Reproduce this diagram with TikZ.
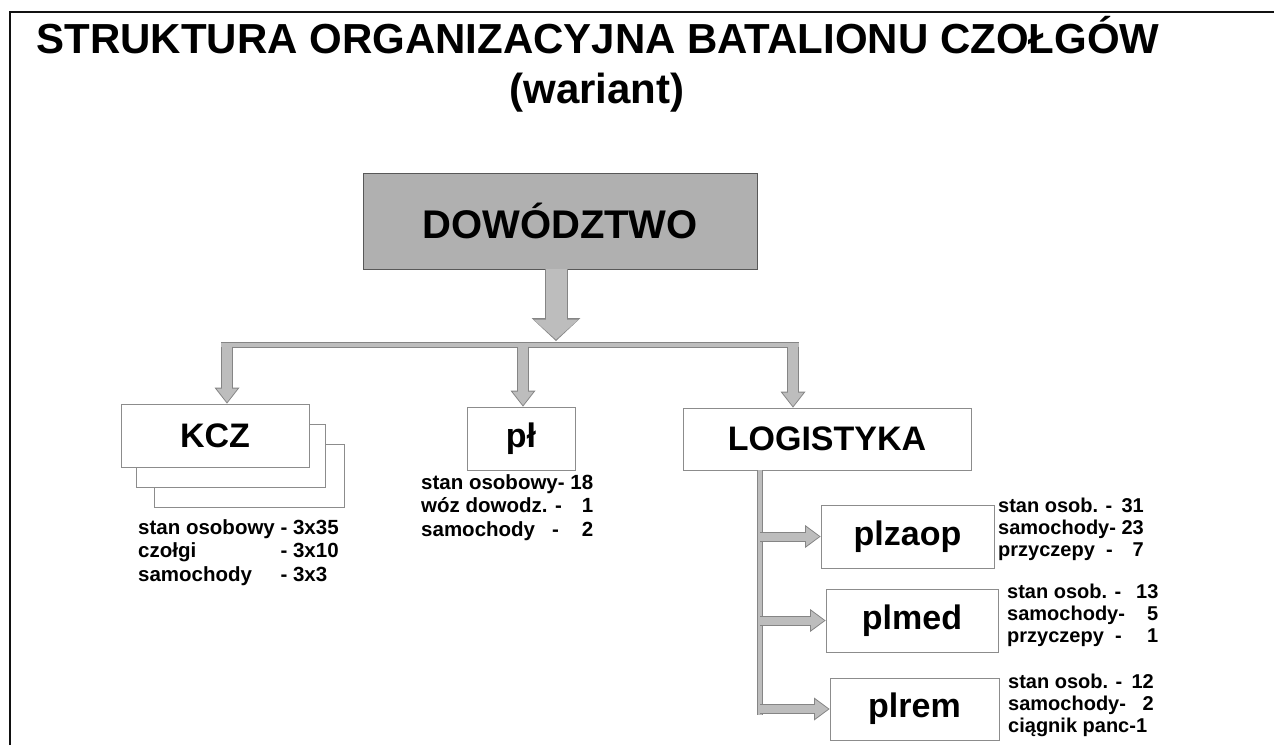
\documentclass[tikz,border=0pt]{standalone}
\usepackage{fontspec}
\setmainfont{Liberation Sans}
\usepackage{tikz}
\usetikzlibrary{arrows.meta,positioning,calc}
\definecolor{ink}{HTML}{111111}
\definecolor{edge}{HTML}{8C8C8C}
\definecolor{shade}{HTML}{B0B0B0}
\definecolor{arrfill}{HTML}{BDBDBD}
\definecolor{arredge}{HTML}{858585}

\begin{document}
\begin{tikzpicture}[x=1pt,y=-1pt,
 bx/.style={draw=edge,line width=.8pt,fill=white,inner sep=0pt,minimum height=63pt,font=\fontsize{34}{40}\selectfont\bfseries},
 inf/.style={anchor=west,inner sep=0pt,font=\fontsize{20.5}{23.5}\selectfont\bfseries},
 sinf/.style={anchor=west,inner sep=0pt,font=\fontsize{20}{22}\selectfont\bfseries},
 hbar/.style={draw=arrfill,line width=4pt,preaction={draw=arredge,line width=6pt}},
 vbar/.style={draw=arrfill,line width=3.5pt,preaction={draw=arredge,line width=5.5pt}},
 ar/.style={draw=arrfill,line width=10pt,shorten >=1.5pt,-{Triangle[width=21pt,length=13.5pt,line width=0pt]},
   preaction={draw=arredge,line width=12pt,shorten >=0pt,-{Triangle[width=25pt,length=16pt,line width=0pt]}}},
 har/.style={draw=arrfill,line width=8pt,shorten >=1.5pt,-{Triangle[width=19pt,length=13pt,line width=0pt]},
   preaction={draw=arredge,line width=10pt,shorten >=0pt,-{Triangle[width=23pt,length=15.5pt,line width=0pt]}}},
 bigar/.style={draw=arrfill,line width=21pt,shorten >=1.5pt,-{Triangle[width=45pt,length=20pt,line width=0pt]},
   preaction={draw=arredge,line width=23pt,shorten >=0pt,-{Triangle[width=49pt,length=23pt,line width=0pt]}}}
]
\useasboundingbox (0,0) rectangle (1274,745);
\draw[ink,line width=1.6pt] (10,745) -- (10,12) -- (1274,12);

% title
\node[anchor=base,font=\fontsize{42}{48}\selectfont\bfseries] (title) at (598,53) {STRUKTURA ORGANIZACYJNA BATALIONU CZOŁGÓW};
\node[anchor=base,font=\fontsize{42}{48}\selectfont\bfseries] (sub) at (597,103.5) {(wariant)};

% boxes
\node[bx,fill=shade,draw=ink!70,minimum width=394pt,minimum height=96pt,font=\fontsize{40}{44}\selectfont\bfseries] (dow) at (560,221) {DOWÓDZTWO};
\node[bx,minimum width=190pt] (kcz3) at (249,475.5) {};
\node[bx,minimum width=189pt] (kcz2) at (230.5,455.5) {};
\node[bx,minimum width=188pt] (kcz) at (215,435.5) {KCZ};
\node[bx,minimum width=108pt] (pl) at (521,438.5) {pł};
\node[bx,minimum width=288pt,minimum height=62pt] (log) at (827,439) {LOGISTYKA};
\node[bx,minimum width=173pt] (zaop) at (907.5,536.5) {plzaop};
\node[bx,minimum width=172pt] (med) at (912,620.5) {plmed};
\node[bx,minimum width=169pt,minimum height=62pt] (rem) at (914.5,709) {plrem};

% strength
\node[inf] (kczinf) at (138,553) {\begin{tabular}{@{}l@{\ }l@{}}stan osobowy & - 3x35\\czołgi & - 3x10\\samochody & - 3x3\end{tabular}};
\node[inf] (plinf) at (421,508) {\begin{tabular}{@{}l@{\ }r@{}}stan osobowy- & 18\\wóz dowodz. - & 1\\samochody\ \ \ - & 2\end{tabular}};
\node[sinf] (zaopinf) at (998,530) {\begin{tabular}{@{}l@{\ }r@{}}stan osob. - & 31\\samochody- & 23\\przyczepy\ \ - & 7\end{tabular}};
\node[sinf] (medinf) at (1007,616) {\begin{tabular}{@{}l@{\ \ }r@{}}stan osob. - & 13\\samochody- & 5\\przyczepy\ \ - & 1\end{tabular}};
\node[sinf] (reminf) at (1008,706) {\begin{tabular}{@{}l@{\ }r@{}}stan osob. - & 12\\samochody- & 2\\\multicolumn{2}{@{}l@{}}{ciągnik panc-1}\end{tabular}};

% connectors
\coordinate (bl) at (221,344.5);
\coordinate (br) at (799,344.5);
\coordinate (bm) at (556,341);
\coordinate (ka) at (227,346.5);
\coordinate (pa) at (523,346.5);
\coordinate (la) at (793,346.5);
\coordinate (lv) at (760,0);
\draw[hbar] (bl) -- (br);
\draw[vbar] (log.south -| lv) -- ($(lv |- rem.west)+(0,6)$);
\draw[bigar] (dow.south -| bm) -- (bm);
\draw[ar] (ka) -- (ka |- kcz.north);
\draw[ar] (pa) -- (pa |- pl.north);
\draw[ar] (la) -- (la |- log.north);
\draw[har] (lv |- zaop.west) -- (zaop.west);
\draw[har] (lv |- med.west) -- (med.west);
\draw[har] (lv |- rem.west) -- (rem.west);
\end{tikzpicture}
\end{document}
